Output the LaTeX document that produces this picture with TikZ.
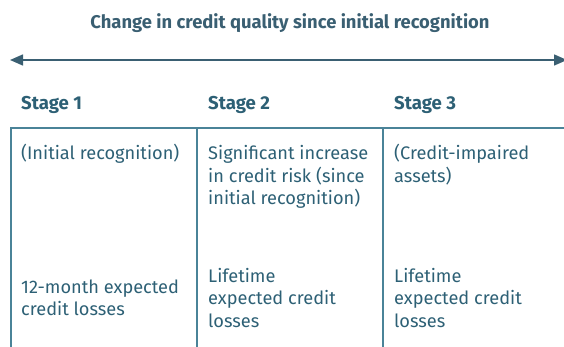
\documentclass[tikz,border=0pt]{standalone}
\usepackage{fontspec}
\setmainfont{Fira Sans}
\usetikzlibrary{arrows.meta}
\definecolor{inkcol}{HTML}{2D6075}
\definecolor{headcol}{HTML}{3A5F72}
\definecolor{rulecol}{HTML}{4A8398}
\newcommand\celltext[1]{\parbox[t]{175pt}{\raggedright #1}}
\tikzset{
  x=1pt, y=-1pt,
  titletext/.style={anchor=base, inner sep=0, text=headcol,
    font=\fontsize{18.4}{22}\selectfont\bfseries},
  stagetext/.style={anchor=base west, inner sep=0, text=inkcol,
    font=\fontsize{18.6}{22}\selectfont\bfseries},
  celltxt/.style={anchor=base west, inner sep=0, text=inkcol,
    font=\fontsize{18.2}{22.5}\selectfont},
  rule/.style={draw=rulecol, line width=1.5pt},
  span/.style={draw=headcol, line width=1.5pt,
    {Triangle[length=13pt,width=11pt]}-{Triangle[length=13pt,width=11pt]}},
}
\begin{document}
\begin{tikzpicture}
\useasboundingbox (0,0) rectangle (564,347);

% heading and the double arrow beneath it
\node[titletext] (title) at (290,29) {Change in credit quality since initial recognition};
\coordinate (arrL) at (10,60);
\coordinate (arrR) at (567,60);
\draw[span] (arrL) -- (arrR);

% stage names
\node[stagetext] (s1) at (21,110) {Stage 1};
\node[stagetext] (s2) at (208,110) {Stage 2};
\node[stagetext] (s3) at (394,110) {Stage 3};

% table frame: top rule and column dividers
\coordinate (topL) at (10,128);
\coordinate (topR) at (570,128);
\draw[rule] (topL) -- (topR);
\foreach \cx/\nm in {11/a,197/b,383/c}{
  \coordinate (\nm top) at (\cx,128);
  \coordinate (\nm bot) at (\cx,350);
  \draw[rule] (\nm top) -- (\nm bot);
}

% stage descriptions
\node[celltxt] (d1) at (21,160) {\celltext{(Initial recognition)}};
\node[celltxt] (d2) at (208,160) {\celltext{Significant increase\\in credit risk (since\\initial recognition)}};
\node[celltxt] (d3) at (394,160) {\celltext{(Credit-impaired\\assets)}};

% loss measurement
\node[celltxt] (m1) at (21,293) {\celltext{12-month expected\\credit losses}};
\node[celltxt] (m2) at (208,282) {\celltext{Lifetime\\expected credit\\losses}};
\node[celltxt] (m3) at (394,282) {\celltext{Lifetime\\expected credit\\losses}};
\end{tikzpicture}
\end{document}
